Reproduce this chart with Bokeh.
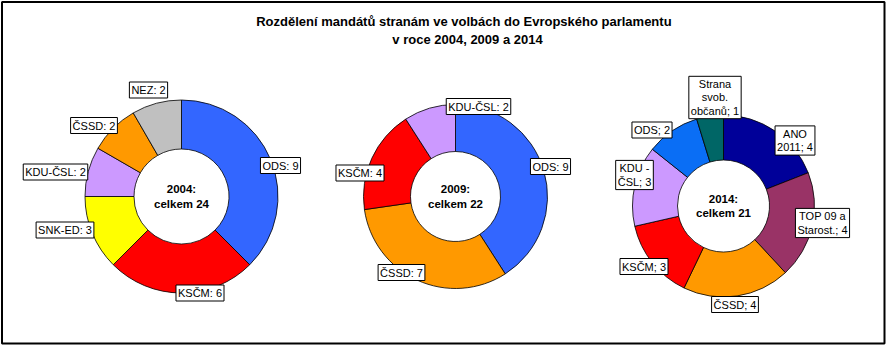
import numpy as np
from bokeh.plotting import figure
from bokeh.models import Range1d, Label, BoxAnnotation, ColumnDataSource
from bokeh.embed import file_html
from bokeh.resources import INLINE

# ---------------- data ----------------
title_text = "Rozdělení mandátů stranám  ve volbách do Evropského  parlamentu\nv roce 2004, 2009 a 2014"

years = ["2004", "2009", "2014"]

parties_2004 = ["ODS", "KSČM", "SNK-ED", "KDU-ČSL", "ČSSD", "NEZ"]
seats_2004 = [9, 6, 3, 2, 2, 2]
colors_2004 = ["#3366FF", "#FF0000", "#FFFF00", "#CC99FF", "#FF9900", "#C0C0C0"]

parties_2009 = ["ODS", "ČSSD", "KSČM", "KDU-ČSL"]
seats_2009 = [9, 7, 4, 2]
colors_2009 = ["#3366FF", "#FF9900", "#FF0000", "#CC99FF"]

parties_2014 = ["ANO\n2011", "TOP 09 a\nStarost.", "ČSSD", "KSČM", "KDU -\nČSL", "ODS", "Strana\nsvob.\nobčanů"]
seats_2014 = [4, 4, 4, 3, 3, 2, 1]
colors_2014 = ["#000099", "#993366", "#FF9900", "#FF0000", "#CC99FF", "#0A6EF5", "#006666"]

# ---------------- layout (pixels, from top-left) ----------------
W, H = 889, 351
def Y(py):
    return H - py

pie_centers = [(181, 196), (455, 196), (723, 205.5)]
pie_outer = [96.5, 92, 91]
pie_inner = [47.5, 45, 46]

label_pos_2004 = [(280, 165), (199.5, 292.5), (64.5, 229.5), (55, 171.5), (93.5, 125), (148, 89.5)]
label_pos_2009 = [(550, 166), (401, 272), (359.5, 172.5), (478, 106)]
label_pos_2014 = [(794.5, 140), (822, 222.5), (734.5, 304), (643.5, 266), (634, 174.5), (651.5, 129.5), (714.5, 97)]

FONT = "Liberation Sans"

p = figure(width=W, height=H, x_range=Range1d(0, W), y_range=Range1d(0, H),
           x_axis_location=None, y_axis_location=None, toolbar_location=None,
           output_backend="svg", min_border=0, outline_line_color=None,
           background_fill_color="white", border_fill_color="white")
p.grid.visible = False

# outer frame
p.add_layout(BoxAnnotation(left=1.5, right=884, bottom=Y(343), top=Y(1.5),
                           fill_alpha=0, line_color="black", line_alpha=1, line_width=2))

series = [
    (parties_2004, seats_2004, colors_2004, label_pos_2004, ": "),
    (parties_2009, seats_2009, colors_2009, label_pos_2009, ": "),
    (parties_2014, seats_2014, colors_2014, label_pos_2014, "; "),
]

for i, (names, seats, cols, lpos, sep) in enumerate(series):
    cx, cy = pie_centers[i]
    vals = np.array(seats, dtype=float)
    total = vals.sum()
    cum = np.concatenate([[0], np.cumsum(vals)])
    start = np.pi / 2 - cum[:-1] / total * 2 * np.pi
    end = np.pi / 2 - cum[1:] / total * 2 * np.pi
    src = ColumnDataSource(dict(x=[cx] * len(vals), y=[Y(cy)] * len(vals),
                                start=start, end=end, color=cols))
    p.annular_wedge(x="x", y="y", inner_radius=pie_inner[i], outer_radius=pie_outer[i],
                    start_angle="start", end_angle="end", direction="clock",
                    fill_color="color", line_color="black", line_width=0.8, source=src)
    # centre text
    p.add_layout(Label(x=cx, y=Y(cy), text=f"{years[i]}:\ncelkem {int(total)}",
                       text_align="center", text_baseline="middle",
                       text_font=FONT, text_font_size="11.5px", text_font_style="bold",
                       text_color="black", text_line_height=1.2))
    # data labels
    for name, s, (lx, ly) in zip(names, seats, lpos):
        p.add_layout(Label(x=lx, y=Y(ly), text=f"{name}{sep}{s}",
                           text_align="center", text_baseline="middle",
                           text_font=FONT, text_font_size="11px", text_color="black",
                           text_line_height=1.1,
                           background_fill_color="white", border_line_color="black",
                           border_line_width=1, padding=2))

# title
p.add_layout(Label(x=467, y=Y(30), text=title_text, text_align="center",
                   text_baseline="middle", text_font=FONT, text_font_size="13px",
                   text_font_style="bold", text_color="black", text_line_height=1.2))

open("out.html", "w").write(file_html(p, INLINE))
